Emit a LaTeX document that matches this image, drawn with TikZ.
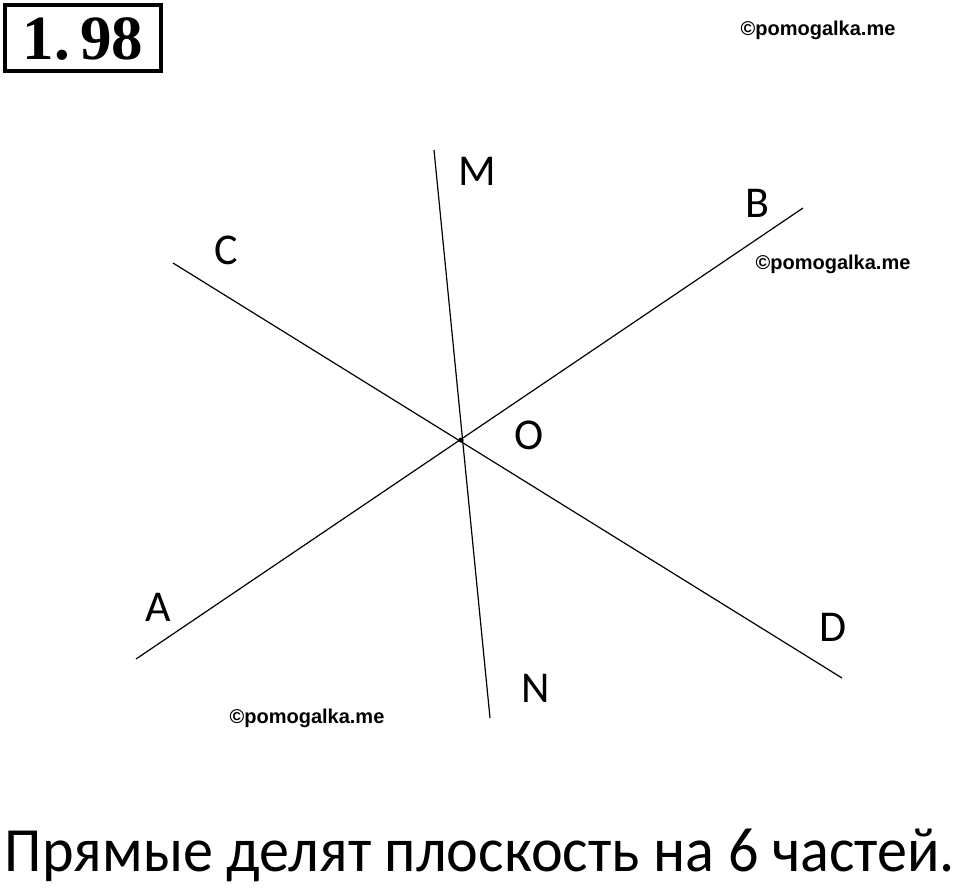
\documentclass[tikz,border=0pt]{standalone}
\usepackage{fontspec}
\usepackage{graphicx}
\setmainfont{Carlito}
\newfontfamily\wmfont{Liberation Sans}
\newfontfamily\titlefont{Liberation Serif}
\begin{document}
\begin{tikzpicture}[x=1pt,y=-1pt,
  geoline/.style={line width=1.2pt, black},
  ptlabel/.style={font=\fontsize{44}{44}\selectfont, inner sep=0pt},
  wmark/.style={font=\wmfont\bfseries\fontsize{20}{20}\selectfont, inner sep=0pt},
  titlebox/.style={draw, line width=4.5pt, minimum width=156pt, minimum height=66pt, inner sep=0pt}]
\useasboundingbox (0,0) rectangle (960,887);
% title
\node[titlebox] (tbox) at (83,38) {};
\node[font=\titlefont\bfseries\fontsize{63}{63}\selectfont, anchor=base, inner sep=0pt] (title) at (83,59) {1.\,98};
% watermarks
\node[wmark] (wm1) at (818,30) {©pomogalka.me};
\node[wmark] (wm2) at (833,264) {©pomogalka.me};
\node[wmark] (wm3) at (307,718) {©pomogalka.me};
% points
\coordinate (O) at (461,440);
\coordinate (Mend) at (434,150);
\coordinate (Nend) at (490,718);
\coordinate (Cend) at (173,263);
\coordinate (Dend) at (842,678);
\coordinate (Aend) at (136,659);
\coordinate (Bend) at (803,208);
\draw[geoline] (Mend) -- (Nend);
\draw[geoline] (Cend) -- (Dend);
\draw[geoline] (Aend) -- (Bend);
\fill (O) circle (2.5pt);
% labels
\node[ptlabel] (M) at (477,171) {M};
\node[ptlabel] (N) at (536,688) {N};
\node[ptlabel] (B) at (757,203) {B};
\node[ptlabel] (C) at (226,250) {C};
\node[ptlabel] (D) at (833,627) {D};
\node[ptlabel] (A) at (158,607) {A};
\node[ptlabel] (Olab) at (529,435) {O};
% caption
\node[font=\fontsize{63}{63}\selectfont, anchor=base, inner sep=0pt] (caption) at (480,871) {\resizebox{950pt}{\height}{Прямые делят плоскость на 6 частей.}};
\end{tikzpicture}
\end{document}
